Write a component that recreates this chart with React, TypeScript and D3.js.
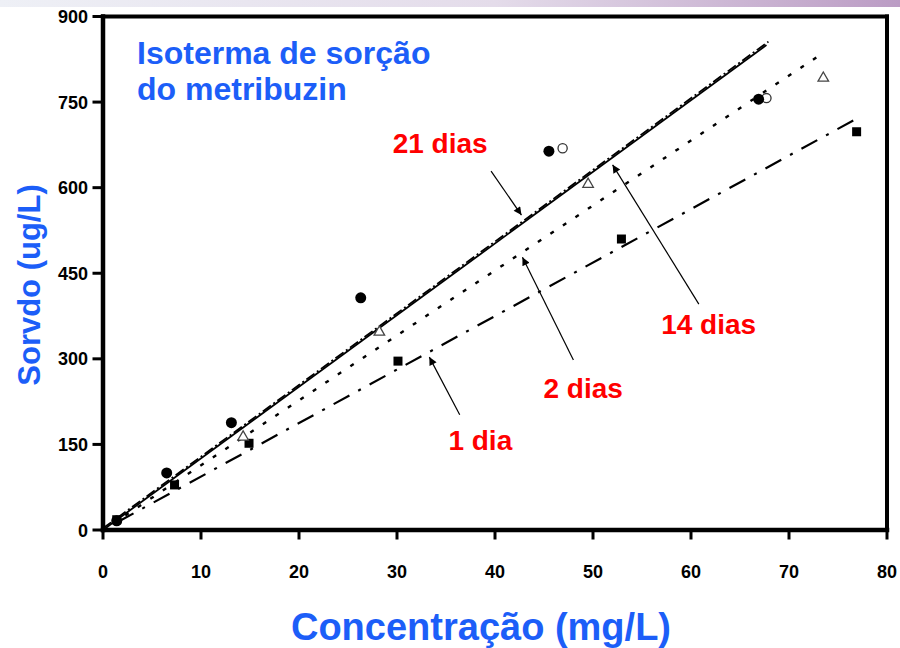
/**
 * Isoterma de sorção do metribuzin - nuage de points + droites ajustées
 */

import { useEffect, useRef } from "react";
import * as d3 from "d3";

// Axes
const xTicks = [0, 10, 20, 30, 40, 50, 60, 70, 80];
const yTicks = [0, 150, 300, 450, 600, 750, 900];

// Concentração (mg/L) / Sorvido (ug/L) par série
const dia1Conc = [1.4, 7.3, 14.9, 30.1, 52.9, 76.9];
const dia1Sorv = [18, 79, 152, 296, 510, 698];

const dias2Conc = [14.3, 28.2, 49.5, 73.5];
const dias2Sorv = [163, 347, 606, 792];

const dias14Conc = [46.9, 67.7];
const dias14Sorv = [669, 757];

const dias21Conc = [1.4, 6.5, 13.1, 26.3, 45.5, 66.9];
const dias21Sorv = [16, 100, 188, 407, 664, 755];

// Droites ajustées : [x début, y début, x fin, y fin]
const fit1 = [1.5, 14, 76.8, 720];
const fit2 = [1.0, 11, 73.3, 834];
const fit14 = [0, 3, 67.9, 856];
const fit21 = [0, 0, 67.7, 850];

// Étiquettes des courbes
const labels = ["21 dias", "14 dias", "2 dias", "1 dia"];
const labelPos = [[34.4, 661], [61.8, 343], [49.0, 231], [38.5, 140]];
const arrowTail = [[39.6, 629], [60.8, 396], [48.0, 298], [36.4, 202]];
const arrowTip = [[42.7, 552], [52.0, 640], [42.8, 478], [33.3, 303]];

const FONT = "'Liberation Sans', Arial, Helvetica, sans-serif";
const BLUE = "#1c5ef8";

export default function App() {
  const svgRef = useRef<SVGSVGElement>(null);

  useEffect(() => {
    if (!svgRef.current) return;
    const svg = d3.select(svgRef.current);
    svg.selectAll("*").remove();

    const width = 900;
    const height = 648;
    svg.attr("width", width).attr("height", height);

    const x = d3.scaleLinear().domain([0, 80]).range([103, 887]);
    const y = d3.scaleLinear().domain([0, 900]).range([530, 16.5]);

    const defs = svg.append("defs");

    // Bandeau dégradé en haut
    const grad = defs
      .append("linearGradient")
      .attr("id", "topband")
      .attr("x1", "0%")
      .attr("x2", "100%");
    grad.append("stop").attr("offset", "0%").attr("stop-color", "#eef0f6");
    grad.append("stop").attr("offset", "55%").attr("stop-color", "#e4dcea");
    grad.append("stop").attr("offset", "100%").attr("stop-color", "#bb9cc4");

    defs
      .append("marker")
      .attr("id", "arrowhead")
      .attr("viewBox", "0 0 10 10")
      .attr("refX", 10)
      .attr("refY", 5)
      .attr("markerWidth", 10)
      .attr("markerHeight", 8)
      .attr("markerUnits", "userSpaceOnUse")
      .attr("orient", "auto")
      .append("path")
      .attr("d", "M0,0 L10,5 L0,10 Z")
      .attr("fill", "#000");

    svg.append("rect").attr("width", width).attr("height", height).attr("fill", "#fff");
    svg.append("rect").attr("width", width).attr("height", 7).attr("fill", "url(#topband)");

    // Droites ajustées
    const fits = [
      { f: fit1, dash: "18,10,3,10", w: 2.2 },
      { f: fit2, dash: "4,11", w: 2.4 },
      { f: fit14, dash: "10,3,2,3", w: 1.8 },
      { f: fit21, dash: null, w: 1.8 }
    ];
    fits.forEach(({ f, dash, w }) => {
      svg
        .append("line")
        .attr("x1", x(f[0]))
        .attr("y1", y(f[1]))
        .attr("x2", x(f[2]))
        .attr("y2", y(f[3]))
        .attr("stroke", "#000")
        .attr("stroke-width", w)
        .attr("stroke-dasharray", dash);
    });

    // 1 dia : carrés pleins
    svg
      .selectAll(".sq")
      .data(d3.zip(dia1Conc, dia1Sorv))
      .enter()
      .append("rect")
      .attr("x", (d) => x(d[0]) - 4.5)
      .attr("y", (d) => y(d[1]) - 4.5)
      .attr("width", 9)
      .attr("height", 9)
      .attr("fill", "#000");

    // 2 dias : triangles ouverts
    const tri = d3.symbol().type(d3.symbolTriangle).size(48);
    svg
      .selectAll(".tri")
      .data(d3.zip(dias2Conc, dias2Sorv))
      .enter()
      .append("path")
      .attr("d", tri)
      .attr("transform", (d) => `translate(${x(d[0])},${y(d[1])})`)
      .attr("fill", "#fff")
      .attr("stroke", "#444")
      .attr("stroke-width", 1.3);

    // 14 dias : cercles ouverts
    svg
      .selectAll(".oc")
      .data(d3.zip(dias14Conc, dias14Sorv))
      .enter()
      .append("circle")
      .attr("cx", (d) => x(d[0]))
      .attr("cy", (d) => y(d[1]))
      .attr("r", 4.6)
      .attr("fill", "#fff")
      .attr("stroke", "#333")
      .attr("stroke-width", 1.3);

    // 21 dias : cercles pleins
    svg
      .selectAll(".fc")
      .data(d3.zip(dias21Conc, dias21Sorv))
      .enter()
      .append("circle")
      .attr("cx", (d) => x(d[0]))
      .attr("cy", (d) => y(d[1]))
      .attr("r", 5.5)
      .attr("fill", "#000");

    // Cadre + axes
    const frame = svg.append("g").attr("stroke", "#000").attr("stroke-linecap", "square");
    frame.append("line").attr("x1", x(0)).attr("x2", x(80)).attr("y1", y(900)).attr("y2", y(900)).attr("stroke-width", 4);
    frame.append("line").attr("x1", x(80)).attr("x2", x(80)).attr("y1", y(900)).attr("y2", y(0)).attr("stroke-width", 4);
    frame.append("line").attr("x1", x(0)).attr("x2", x(0)).attr("y1", y(900)).attr("y2", y(0)).attr("stroke-width", 4.5);
    frame.append("line").attr("x1", x(0)).attr("x2", x(80)).attr("y1", y(0)).attr("y2", y(0)).attr("stroke-width", 4.5);

    frame
      .selectAll(".yt")
      .data(yTicks)
      .enter()
      .append("line")
      .attr("x1", x(0) - 9)
      .attr("x2", x(0))
      .attr("y1", (d) => y(d))
      .attr("y2", (d) => y(d))
      .attr("stroke-width", 3);
    frame
      .selectAll(".xt")
      .data(xTicks)
      .enter()
      .append("line")
      .attr("x1", (d) => x(d))
      .attr("x2", (d) => x(d))
      .attr("y1", y(0))
      .attr("y2", y(0) + 8)
      .attr("stroke-width", 3);

    svg
      .selectAll(".ytl")
      .data(yTicks)
      .enter()
      .append("text")
      .attr("x", x(0) - 15)
      .attr("y", (d) => y(d) + 6.5)
      .attr("text-anchor", "end")
      .style("font-family", FONT)
      .style("font-size", "18px")
      .style("font-weight", "bold")
      .text((d) => d);

    svg
      .selectAll(".xtl")
      .data(xTicks)
      .enter()
      .append("text")
      .attr("x", (d) => x(d))
      .attr("y", 578)
      .attr("text-anchor", "middle")
      .style("font-family", FONT)
      .style("font-size", "18px")
      .style("font-weight", "bold")
      .text((d) => d);

    // Titres des axes
    svg
      .append("text")
      .attr("x", 481)
      .attr("y", 640)
      .attr("text-anchor", "middle")
      .style("font-family", FONT)
      .style("font-size", "38px")
      .style("font-weight", "bold")
      .style("fill", BLUE)
      .text("Concentração (mg/L)");

    svg
      .append("text")
      .attr("transform", "translate(40,285) rotate(-90)")
      .attr("text-anchor", "middle")
      .style("font-family", FONT)
      .style("font-size", "31px")
      .style("font-weight", "bold")
      .style("fill", BLUE)
      .text("Sorvdo (ug/L)");

    // Titre dans le graphique
    const title = svg
      .append("text")
      .style("font-family", FONT)
      .style("font-size", "32px")
      .style("font-weight", "bold")
      .style("fill", BLUE);
    title.append("tspan").attr("x", 137).attr("y", 64).text("Isoterma de sorção");
    title.append("tspan").attr("x", 137).attr("y", 100).text("do metribuzin");

    // Étiquettes et flèches
    labels.forEach((lab, i) => {
      svg
        .append("line")
        .attr("x1", x(arrowTail[i][0]))
        .attr("y1", y(arrowTail[i][1]))
        .attr("x2", x(arrowTip[i][0]))
        .attr("y2", y(arrowTip[i][1]))
        .attr("stroke", "#000")
        .attr("stroke-width", 1.2)
        .attr("marker-end", "url(#arrowhead)");
      svg
        .append("text")
        .attr("x", x(labelPos[i][0]))
        .attr("y", y(labelPos[i][1]))
        .attr("text-anchor", "middle")
        .style("font-family", FONT)
        .style("font-size", "28px")
        .style("font-weight", "bold")
        .style("fill", "#ff0000")
        .text(lab);
    });
  }, []);

  return (
    <div style={{ position: "absolute", left: 0, top: 0 }}>
      <svg ref={svgRef} style={{ display: "block" }} />
    </div>
  );
}
